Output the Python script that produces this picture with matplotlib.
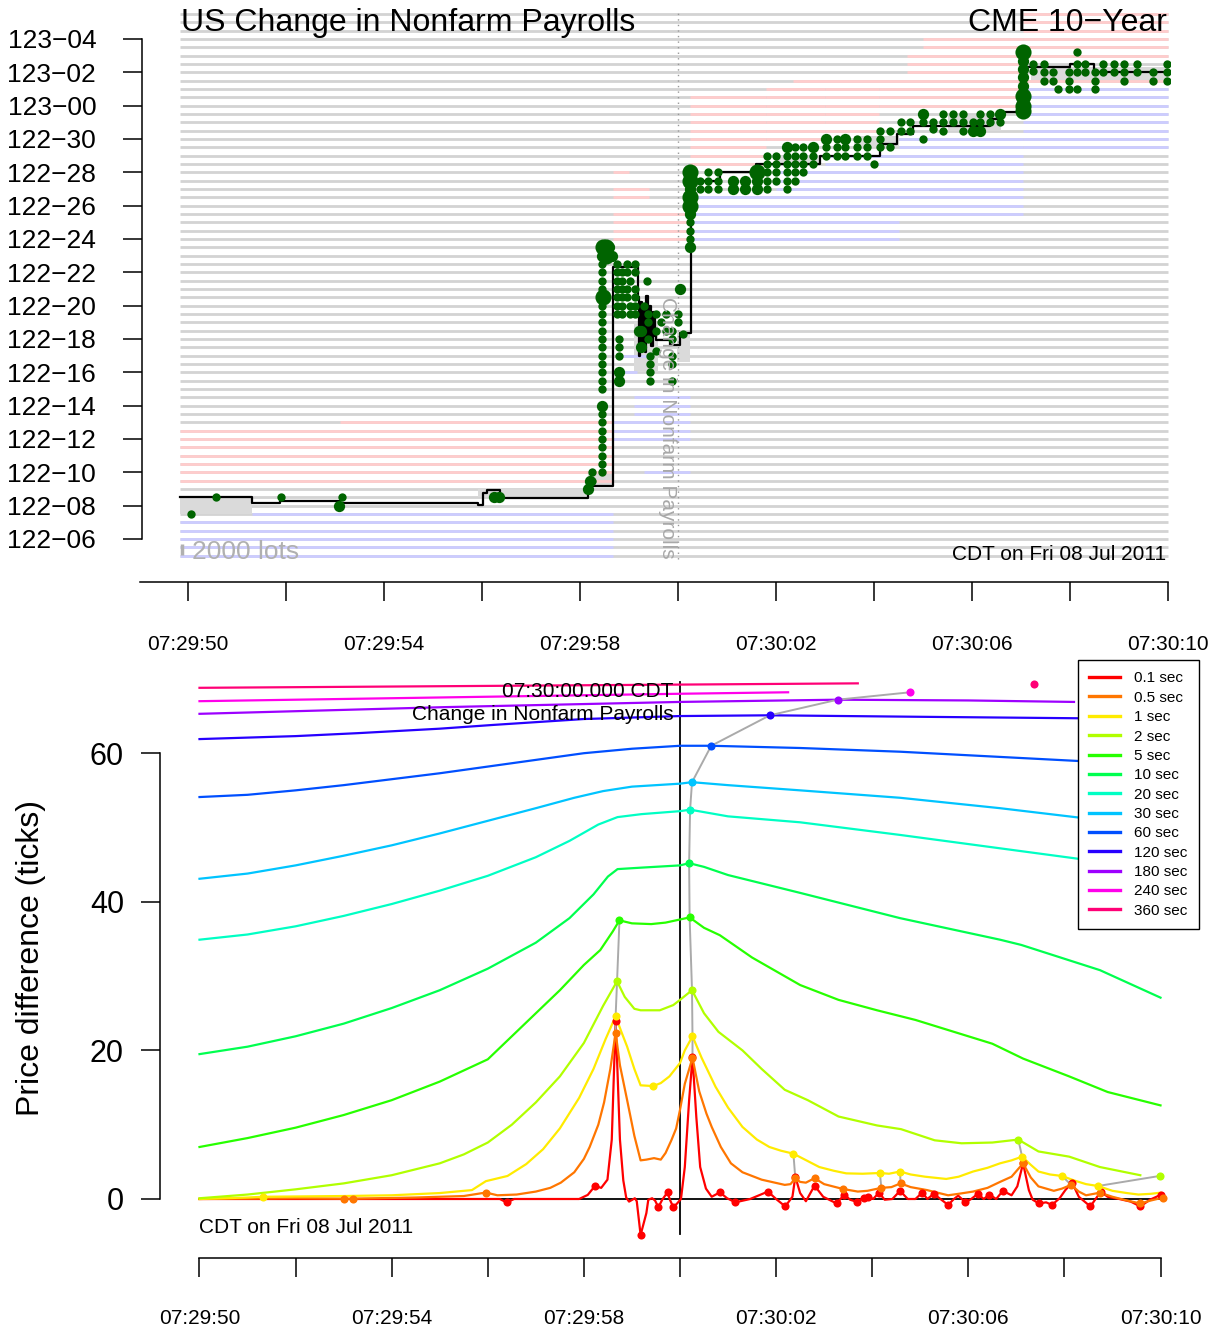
import numpy as np
import matplotlib
matplotlib.use("Agg")
import matplotlib.pyplot as plt
from matplotlib.lines import Line2D

plt.rcParams['font.family'] = ['Liberation Sans', 'DejaVu Sans']

# ---------------- TOP PANEL DATA (time in s from 07:30:00, price in 1/32 above 122-06) ----
price_t = [-10.16, -8.70, -8.12, -6.90, -4.08, -3.97, -3.90, -3.63, -1.83, -1.32, -0.82, -0.80,
           -0.77, -0.74, -0.71, -0.68, -0.65, -0.62, -0.59, -0.56, -0.52, -0.47, -0.44, -0.16,
           0.04, 0.265, 0.86, 1.60, 2.90, 4.12, 4.46, 4.80, 6.37, 6.57, 7.05, 8.00, 8.48, 10.0]
price_L = [2.5, 2.15, 2.25, 2.15, 2.05, 2.75, 2.95, 2.45, 3.2, 16.3, 14.5, 11.0,
           14.2, 11.5, 13.8, 11.2, 14.6, 12.0, 14.0, 11.6, 13.6, 12.2, 11.94, 11.64,
           12.34, 21.5, 22.0, 22.5, 23.0, 23.7, 24.3, 24.8, 25.2, 25.6, 28.3, 28.5, 28.0, 28.0]

# order book blocks: side, low level, high level, start, end
book_side = ['ask', 'ask', 'bid', 'bid',
             'ask', 'ask', 'ask',
             'bid', 'bid', 'bid', 'bid', 'bid',
             'ask', 'ask', 'ask', 'ask', 'ask', 'ask', 'ask', 'ask',
             'bid', 'bid', 'bid', 'bid', 'bid', 'bid']
book_lo = [3.5, 7.0, -1.0, 1.5,
           18.0, 20.5, 22.0,
           11.0, 10.0, 7.5, 6.0, 4.0,
           22.5, 24.0, 27.5, 24.5, 26.0, 28.0, 29.5, 29.0,
           19.5, 21.0, 22.5, 23.5, 18.0, 23.5]
book_hi = [6.5, 7.0, 1.0, 1.5,
           19.5, 21.0, 22.0,
           11.0, 10.0, 8.5, 7.0, 4.0,
           26.5, 27.0, 27.5, 27.0, 27.0, 29.0, 30.0, 31.5,
           20.5, 22.0, 23.0, 24.0, 19.0, 27.0]
book_t0 = [-10.16, -6.9, -10.16, -8.7,
           -1.32, -1.32, -1.32,
           -1.12, -1.32, -0.9, -1.32, -0.7,
           0.24, 1.8, 2.35, 3.0, 4.1, 4.67, 5.0, 7.05,
           0.24, 2.0, 3.0, 4.5, 0.24, 7.05]
book_t1 = [-1.32, -1.32, -1.32, -1.32,
           0.24, -0.6, -1.0,
           -0.64, -0.84, 0.24, 0.24, 0.24,
           1.8, 3.0, 10.0, 4.1, 7.05, 7.05, 7.05, 10.0,
           7.05, 7.05, 7.05, 7.05, 4.5, 10.0]

# spread (empty) regions
spread_lo = [1.5, 2.5, 3.2, 10.0, 10.6, 22.5, 23.5, 24.5, 27.4]
spread_hi = [2.5, 3.0, 4.0, 13.0, 12.5, 23.0, 24.2, 25.4, 28.3]
spread_t0 = [-10.16, -4.08, -1.83, -0.90, -0.02, 2.0, 3.6, 5.5, 7.2]
spread_t1 = [-8.70, -1.83, -1.32, -0.40, 0.24, 2.9, 4.5, 6.6, 10.0]

# trades: (time, [levels], size class)
trades = [
    (-9.93, [1.5], 1), (-9.43, [2.5], 1), (-8.11, [2.5], 1), (-6.91, [2.0], 2),
    (-6.85, [2.5], 1), (-3.75, [2.5], 2), (-3.65, [2.5], 2),
    (-1.84, [3.0], 2), (-1.80, [3.5], 2), (-1.76, [3.5, 4.0], 1),
    (-1.56, [4.0, 4.5, 5.0, 5.5, 6.0, 6.5, 7.0, 7.5, 9.0, 9.5, 10.0, 10.5, 11.0, 11.5,
             12.0, 12.5, 13.0, 13.5, 14.0, 15.0, 15.5, 16.0, 16.5], 1),
    (-1.56, [8.0, 17.0], 2), (-1.54, [14.5, 17.5], 3),
    (-1.47, [17.5, 17.0], 3), (-1.40, [17.5], 2), (-1.34, [17.0], 2),
    (-1.25, [16.5, 16.0, 15.5, 15.0, 14.5, 14.0, 13.5], 1),
    (-1.14, [16.0, 15.5, 15.0, 14.5, 14.0, 13.5], 1),
    (-1.05, [16.5, 16.0, 15.0, 14.5], 1),
    (-0.98, [15.5, 14.0, 13.5], 1),
    (-0.88, [16.5, 16.0, 15.0, 14.5, 14.0, 13.5], 1),
    (-1.20, [12.0, 11.5, 11.0], 1), (-1.20, [10.0, 9.5], 2),
    (-0.80, [12.5], 2), (-0.75, [12.5, 11.5], 2), (-0.70, [14.0], 1),
    (-0.64, [15.5], 1), (-0.62, [13.5, 13.0, 12.0], 1),
    (-0.58, [11.0, 10.5, 10.0, 9.5], 1), (-0.45, [13.5, 12.5, 11.3], 1),
    (-0.35, [13.0], 1), (-0.25, [13.5, 12.5], 1),
    (-0.12, [12.5, 12.0, 11.0, 10.5, 9.5], 1), (0.0, [13.5, 13.0], 1),
    (0.05, [15.0], 2), (0.10, [12.3], 1),
    (0.25, [17.5, 19.5, 21.0], 2), (0.25, [18.0, 18.5, 19.0], 1),
    (0.25, [20.0, 20.5, 21.5, 22.0], 3),
    (0.45, [21.5, 21.0], 1), (0.62, [22.0, 21.5, 21.0], 1), (0.82, [22.0, 21.5, 21.0], 1),
    (1.13, [21.5, 21.0], 2), (1.37, [21.5, 21.0], 2), (1.61, [22.0], 3), (1.61, [21.5, 21.0], 2),
    (1.81, [23.0, 22.5, 22.0, 21.5, 21.0], 1), (2.01, [23.0, 22.5, 22.0, 21.5], 1),
    (2.22, [23.5], 2), (2.22, [23.0, 22.5, 22.0, 21.5, 21.0], 1),
    (2.39, [23.5, 23.0, 22.5, 22.0, 21.5], 1), (2.56, [23.5, 23.0, 22.5, 22.0], 1),
    (2.76, [23.5], 2), (2.76, [23.0, 22.5], 1),
    (3.03, [24.0], 2), (3.03, [23.5, 23.0], 1), (3.24, [24.0, 23.5, 23.0], 1),
    (3.41, [24.0], 2), (3.41, [23.5, 23.0], 1), (3.65, [24.0, 23.5, 23.0], 1),
    (3.85, [24.0, 23.5, 23.0], 1), (3.99, [22.5], 1), (4.12, [24.5, 24.0, 23.5], 1),
    (4.33, [24.5, 23.5], 1), (4.56, [25.0, 24.5], 1), (4.73, [25.0, 24.5], 1),
    (5.01, [25.5], 2), (5.01, [25.0, 24.0], 1), (5.21, [25.0, 24.6], 1),
    (5.41, [25.5, 25.0, 24.5], 1), (5.62, [25.5, 25.0], 1), (5.82, [25.5, 25.0, 24.5], 1),
    (6.03, [25.0], 1), (6.03, [24.5], 2), (6.16, [25.5, 25.0], 1), (6.16, [24.5], 2),
    (6.37, [25.5, 25.0], 1), (6.57, [25.5], 2), (6.57, [25.0], 1),
    (7.05, [29.2, 26.6, 26.0, 25.7], 3), (7.05, [28.7, 28.2, 27.7, 27.2], 2),
    (7.25, [28.5, 28.1], 1), (7.46, [28.5, 28.0, 27.5], 1), (7.66, [28.0, 27.5], 1),
    (7.76, [27.0], 1), (7.97, [28.0, 27.5, 27.0], 1), (8.14, [29.2, 28.5, 28.0, 27.0], 1),
    (8.31, [28.5, 28.0], 1), (8.51, [28.0, 27.5, 27.0], 1), (8.68, [28.5, 28.0], 1),
    (8.90, [28.5, 28.0], 1), (9.10, [28.5, 28.0, 27.5], 1), (9.36, [28.5, 28.0], 1),
    (9.70, [28.0, 27.5], 1), (9.97, [28.5, 28.0, 27.5], 1),
]
trade_size = {1: 36, 2: 66, 3: 135}

# ---------------- BOTTOM PANEL DATA ----------------
horizons = ['0.1 sec', '0.5 sec', '1 sec', '2 sec', '5 sec', '10 sec', '20 sec',
            '30 sec', '60 sec', '120 sec', '180 sec', '240 sec', '360 sec']
colors = ['#FF0000', '#FF7600', '#FFEB00', '#B1FF00', '#27FF00', '#00FF4F', '#00FFC4',
          '#00C4FF', '#004FFF', '#2700FF', '#9D00FF', '#FF00EB', '#FF0076']

t_01 = [-10, -4.0, -3.75, -3.61, -3.45, -2.1, -1.92, -1.77, -1.64, -1.51, -1.42, -1.37, -1.34,
        -1.30, -1.25, -1.18, -1.12, -1.06, -0.94, -0.90, -0.82, -0.70, -0.66, -0.58, -0.52,
        -0.45, -0.37, -0.26, -0.21, -0.14, -0.06, 0.02, 0.10, 0.19, 0.26, 0.34, 0.42, 0.54,
        0.66, 0.83, 0.98, 1.15, 1.46, 1.83, 2.0, 2.19, 2.34, 2.40, 2.5, 2.62, 2.80, 2.98,
        3.26, 3.42, 3.54, 3.69, 3.82, 3.92, 4.02, 4.14, 4.26, 4.42, 4.58, 4.74, 4.9, 5.04,
        5.15, 5.28, 5.42, 5.58, 5.70, 5.79, 5.94, 6.06, 6.2, 6.32, 6.44, 6.58, 6.72, 6.9,
        7.02, 7.14, 7.26, 7.34, 7.47, 7.62, 7.74, 7.9, 8.02, 8.16, 8.3, 8.42, 8.54, 8.66,
        8.76, 8.9, 9.14, 9.38, 9.58, 9.78, 10.0]
v_01 = [0, 0, 0, -0.46, 0, 0, 0.55, 1.75, 1.5, 2.6, 8.0, 18.0, 23.9,
        17.0, 8.0, 2.5, 0.2, -0.35, 0.1, -0.3, -4.84, -1.9, -0.1, 0.1, -0.2,
        -1.1, -0.1, 0.9, -0.1, -1.1, -0.6, 0.0, 4.3, 13.3, 19.1, 11.0, 4.3, 1.4,
        0.3, 0.9, 0.1, -0.45, 0.0, 1.0, 0.0, -1.0, 0.3, 3.0, 0.8, -0.3, 1.8, 0.3,
        -0.6, 0.6, -0.1, -0.4, 0.2, 0.3, 0.0, 0.85, -0.1, 0.0, 1.1, 0.0, 0.0, 0.85,
        0.0, 0.7, 0.0, -0.8, 0.0, 0.45, -0.45, 0.0, 0.7, 0.0, 0.6, 0.0, 1.1, 0.5,
        1.7, 4.8, 1.2, -0.1, -0.6, -0.45, -0.8, 0.1, 1.2, 2.2, 0.3, -0.35, -1.0, 0.1,
        1.0, 0.3, 0.0, -0.35, -1.0, -0.1, 0.55]
t_05 = [-10, -8, -7.0, -6.8, -5.5, -4.5, -4.04, -3.8, -3.4, -3.0, -2.7, -2.48, -2.2, -2.0,
        -1.88, -1.7, -1.58, -1.45, -1.34, -1.25, -1.1, -0.95, -0.82, -0.7, -0.54, -0.4,
        -0.3, -0.18, -0.08, 0.0, 0.1, 0.26, 0.4, 0.55, 0.66, 0.85, 1.06, 1.3, 1.7, 2.18,
        2.3, 2.4, 2.5, 2.62, 2.8, 3.0, 3.39, 3.7, 3.9, 4.19, 4.4, 4.59, 4.8, 5.14, 5.58,
        5.8, 6.1, 6.4, 6.66, 6.9, 7.14, 7.3, 7.46, 7.78, 7.95, 8.14, 8.3, 8.45, 8.74, 9.0,
        9.3, 9.58, 9.8, 10.06]
v_05 = [0, 0.1, 0.05, 0.05, 0.2, 0.4, 0.87, 0.5, 0.6, 1.0, 1.5, 2.2, 3.6, 5.4,
        7.0, 10.0, 13.0, 17.5, 22.4, 18.0, 13.3, 8.5, 5.2, 5.3, 5.5, 5.3,
        6.2, 7.9, 9.5, 12.0, 15.5, 19.0, 14.5, 11.5, 9.7, 7.0, 4.8, 3.6, 2.6, 1.9,
        2.0, 2.8, 2.3, 2.2, 2.8, 2.0, 1.35, 1.0, 1.1, 1.5, 1.6, 2.1, 1.6, 1.2, 0.5,
        0.7, 1.0, 1.5, 2.3, 3.0, 4.8, 2.9, 1.7, 1.1, 1.4, 1.9, 1.0, 0.5, 0.85, 0.3,
        -0.2, -0.6, -0.2, 0.2]
t_1 = [-10, -9, -8.68, -7.0, -6.0, -5.0, -4.33, -4.04, -3.59, -3.2, -2.85, -2.5, -2.1, -1.8,
       -1.55, -1.34, -1.22, -1.1, -0.95, -0.82, -0.56, -0.4, -0.22, 0.0, 0.1, 0.26, 0.45,
       0.74, 1.0, 1.3, 1.6, 1.86, 2.1, 2.36, 2.6, 2.9, 3.2, 3.46, 3.8, 4.16, 4.35, 4.58,
       4.8, 5.1, 5.54, 5.8, 6.1, 6.4, 6.66, 6.9, 7.12, 7.3, 7.46, 7.7, 7.95, 8.2, 8.45,
       8.7, 9.0, 9.3, 9.54, 9.8, 10.0]
v_1 = [0, 0.2, 0.3, 0.4, 0.5, 0.8, 1.2, 2.4, 3.1, 4.7, 6.7, 9.5, 13.6, 17.5,
       21.5, 24.6, 22.5, 20.5, 17.5, 15.3, 15.2, 15.6, 16.5, 18.3, 20.0, 21.9, 19.0,
       15.1, 12.3, 9.7, 8.0, 7.0, 6.5, 6.1, 5.3, 4.3, 3.8, 3.45, 3.4, 3.5, 3.4, 3.7,
       3.3, 3.0, 2.7, 3.0, 3.7, 4.2, 4.8, 5.2, 5.7, 4.6, 3.7, 3.3, 3.1, 2.5, 2.0,
       1.75, 1.1, 0.8, 0.6, 0.7, 0.85]
t_2 = [-10, -9, -8, -7, -6, -5, -4.5, -4.0, -3.5, -3.0, -2.5, -2.0, -1.6, -1.31, -1.15,
       -0.95, -0.82, -0.42, -0.14, 0.0, 0.25, 0.5, 0.8, 1.3, 1.7, 2.18, 2.66, 3.3, 4.1,
       4.6, 5.3, 5.86, 6.5, 7.04, 7.46, 8.1, 8.74, 9.58]
v_2 = [0.1, 0.6, 1.3, 2.1, 3.2, 4.8, 6.0, 7.6, 10.0, 13.0, 16.5, 21.0, 26.0, 29.3, 27.2,
       25.6, 25.4, 25.4, 26.1, 26.8, 28.1, 25.0, 22.5, 20.0, 17.5, 14.7, 13.3, 11.1, 9.9,
       9.4, 7.9, 7.5, 7.6, 8.0, 6.4, 5.7, 4.3, 3.2]
t_5 = [-10, -9, -8, -7, -6, -5, -4, -3, -2.5, -2.0, -1.66, -1.4, -1.26, -1.0, -0.6,
       -0.3, 0.2, 0.5, 0.83, 1.5, 2.5, 3.3, 4.1, 4.9, 5.7, 6.5, 7.14, 8.1, 8.9, 10.0]
v_5 = [7.0, 8.2, 9.6, 11.3, 13.3, 15.8, 18.8, 25.0, 28.1, 31.5, 33.5, 36.0, 37.5, 37.1, 37.0,
       37.2, 37.9, 36.5, 35.5, 32.5, 28.8, 26.8, 25.4, 24.1, 22.5, 20.9, 18.9, 16.5, 14.4, 12.6]
t_10 = [-10, -9, -8, -7, -6, -5, -4, -3, -2.3, -1.8, -1.5, -1.3, -0.8, 0.0, 0.19, 0.5,
        1.0, 2.5, 4.58, 6.66, 7.1, 8.74, 10.0]
v_10 = [19.5, 20.5, 21.9, 23.6, 25.7, 28.1, 31.0, 34.5, 37.8, 41.0, 43.4, 44.4, 44.6, 44.9,
        45.2, 44.7, 43.6, 41.2, 37.8, 34.9, 34.2, 30.8, 27.1]
t_20 = [-10, -9, -8, -7, -6, -5, -4, -3, -2.3, -1.7, -1.3, -0.8, 0.0, 0.21, 1.0, 2.5,
        4.58, 6.66, 8.74, 10]
v_20 = [34.9, 35.6, 36.7, 38.1, 39.7, 41.5, 43.5, 46.0, 48.2, 50.4, 51.4, 51.8, 52.2, 52.4,
        51.5, 50.7, 49.0, 47.2, 45.4, 44.0]
t_30 = [-10, -9, -8, -7, -6, -5, -4, -3, -2.2, -1.6, -1.0, 0.0, 0.25, 1.0, 2.5, 4.58,
        6.66, 8.74, 10]
v_30 = [43.1, 43.8, 44.9, 46.2, 47.6, 49.2, 50.9, 52.6, 54.0, 54.9, 55.5, 55.9, 56.1, 55.7,
        55.0, 54.0, 52.6, 51.0, 50.2]
t_60 = [-10, -9, -8, -7, -6, -5, -4, -3, -2, -1, 0.0, 0.65, 2.5, 4.58, 6.66, 8.74, 10]
v_60 = [54.1, 54.4, 55.0, 55.7, 56.5, 57.3, 58.2, 59.1, 60.0, 60.6, 61.0, 61.0, 60.7, 60.2,
        59.5, 58.8, 58.3]
t_120 = [-10, -8, -6.7, -5, -3.9, -2.0, 0.0, 1.87, 5.0, 10.0]
v_120 = [61.9, 62.3, 62.7, 63.3, 63.8, 64.6, 65.0, 65.1, 64.9, 64.6]
t_180 = [-10, -4.9, 0.0, 3.28, 6.0, 8.2]
v_180 = [65.3, 66.2, 66.9, 67.2, 67.1, 66.9]
t_240 = [-10, -4.0, 0.0, 2.25]
v_240 = [67.0, 67.6, 68.0, 68.2]
t_360 = [-10, -3.0, 3.7]
v_360 = [68.8, 69.1, 69.4]
curve_t = [t_01, t_05, t_1, t_2, t_5, t_10, t_20, t_30, t_60, t_120, t_180, t_240, t_360]
curve_v = [v_01, v_05, v_1, v_2, v_5, v_10, v_20, v_30, v_60, v_120, v_180, v_240, v_360]

# marked extreme points per horizon
dot_t = [
    [-3.61, -1.77, -1.34, -0.82, -0.45, -0.26, -0.14, 0.26, 0.83, 1.15, 1.83, 2.19, 2.40, 2.80,
     3.26, 3.42, 3.69, 3.82, 3.92, 4.14, 4.58, 5.04, 5.28, 5.58, 5.94, 6.2, 6.44, 6.72, 7.14,
     7.47, 7.74, 8.16, 8.54, 8.76, 9.58, 10.0],
    [-7.0, -6.8, -4.04, -1.34, 0.26, 2.4, 2.8, 3.39, 4.19, 4.59, 7.14, 8.14, 8.74, 9.58, 10.06],
    [-8.68, -1.34, -0.56, 0.26, 2.36, 4.16, 4.58, 7.12, 7.95, 8.7],
    [-1.31, 0.25, 7.04, 9.98],
    [-1.26, 0.2], [0.19], [0.21], [0.25], [0.65], [1.87], [3.28], [4.79], [7.37]]
dot_v = [
    [-0.46, 1.75, 23.9, -4.84, -1.1, 0.9, -1.1, 19.1, 0.9, -0.45, 1.0, -1.0, 3.0, 1.8,
     -0.6, 0.6, -0.4, 0.2, 0.3, 0.85, 1.1, 0.85, 0.7, -0.8, -0.45, 0.7, 0.6, 1.1, 4.8,
     -0.6, -0.8, 2.2, -1.0, 1.0, -1.0, 0.55],
    [0.05, 0.05, 0.87, 22.4, 19.0, 2.8, 2.8, 1.35, 1.5, 2.1, 4.8, 1.9, 0.85, -0.6, 0.2],
    [0.3, 24.6, 15.2, 21.9, 6.1, 3.5, 3.7, 5.7, 3.1, 1.75],
    [29.3, 28.1, 8.0, 3.1],
    [37.5, 37.9], [45.2], [52.4], [56.1], [61.0], [65.1], [67.2], [68.2], [69.3]]

# gray links between the marked points of successive horizons
chains_t = [[-1.34, -1.34, -1.31, -1.26],
            [0.26, 0.26, 0.25, 0.2, 0.19, 0.21, 0.25, 0.65, 1.87, 3.28, 4.79],
            [2.4, 2.36], [4.19, 4.16], [4.59, 4.58], [7.14, 7.12, 7.04],
            [8.16, 8.14, 7.95], [8.7, 9.98]]
chains_v = [[22.4, 24.6, 29.3, 37.5],
            [19.0, 21.9, 28.1, 37.9, 45.2, 52.4, 56.1, 61.0, 65.1, 67.2, 68.2],
            [2.8, 6.1], [1.5, 3.5], [2.1, 3.7], [4.8, 5.7, 8.0],
            [2.2, 1.9, 3.1], [1.75, 3.1]]

time_ticks = [-10, -8, -6, -4, -2, 0, 2, 4, 6, 8, 10]
time_labels = ['07:29:50', '', '07:29:54', '', '07:29:58', '', '07:30:02', '', '07:30:06', '', '07:30:10']
level_ticks = list(range(0, 31, 2))

# ---------------- FIGURE ----------------
W, H = 1218, 1332
fig = plt.figure(figsize=(W / 100, H / 100), dpi=100)


def px_axes(l, t, r, b):
    return fig.add_axes([l / W, 1 - b / H, (r - l) / W, (b - t) / H])


def ftext(x, y, s, **kw):
    fig.text(x / W, 1 - y / H, s, **kw)


def level_label(L):
    total = 122 * 32 + 6 + L
    return f"{total // 32}\u2212{total % 32:02d}"


# ---------- top panel ----------
ax = px_axes(142, 8, 1170, 582)
ax.set_xlim((142 - 678) / 49, (1170 - 678) / 49)
ax.set_ylim((539 - 582) / 16.667, (539 - 8) / 16.667)

levels = np.arange(-1.0, 31.51, 0.5)
ax.hlines(levels, -10.16, 10.0, color='#d3d3d3', lw=2.0, zorder=1)

for lo, hi, t0, t1 in zip(spread_lo, spread_hi, spread_t0, spread_t1):
    ax.fill_between([t0, t1], [lo, lo], [hi, hi], color='#dadada', lw=0, zorder=1.5)

for side, lo, hi, t0, t1 in zip(book_side, book_lo, book_hi, book_t0, book_t1):
    col = '#ffcccc' if side == 'ask' else '#ccccff'
    lv = np.arange(lo, hi + 0.01, 0.5)
    ax.hlines(lv, t0, t1, color=col, lw=2.0, zorder=2)

ax.axvline(0, ymin=0.04, ymax=0.995, color='#999999', lw=1.0, ls=(0, (1, 3)), zorder=2.5)
ax.step(price_t, price_L, where='post', color='black', lw=1.6, zorder=3)

for t, lv, sz in trades:
    ax.scatter([t] * len(lv), lv, s=trade_size[sz], color='#006400', lw=0, zorder=4)

ax.text(-0.21, 6.7, 'Change in Nonfarm Payrolls', rotation=-90, color='#a8a8a8',
        fontsize=15, ha='center', va='center', zorder=5)

for s in ['top', 'right']:
    ax.spines[s].set_visible(False)
ax.spines['left'].set_bounds(0, 30)
ax.spines['bottom'].set_bounds((140 - 678) / 49, 10)
for s in ['left', 'bottom']:
    ax.spines[s].set_linewidth(1.1)
ax.set_yticks(level_ticks)
ax.set_yticklabels([level_label(L) for L in level_ticks])
ax.set_xticks(time_ticks)
ax.set_xticklabels(time_labels)
ax.tick_params(axis='y', length=14, width=1.1, labelsize=19, pad=19)
ax.tick_params(axis='x', length=14, width=1.1, labelsize=15, pad=24)

ftext(181, 23, 'US Change in Nonfarm Payrolls', fontsize=23, ha='left', va='center')
ftext(1167, 23, 'CME 10\u2212Year', fontsize=23, ha='right', va='center')
ftext(192, 552, '2000 lots', fontsize=19, color='#b0b0b0', ha='left', va='center')
ftext(1166, 554, 'CDT on Fri 08 Jul 2011', fontsize=15, ha='right', va='center')
ax.plot([-10.13, -10.13], [-0.3, -0.95], color='#b0b0b0', lw=2.5, solid_capstyle='butt')

# ---------- bottom panel ----------
bx = px_axes(160, 670, 1200, 1258)
bx.set_xlim((160 - 680) / 48.05, (1200 - 680) / 48.05)
bx.set_ylim((1199 - 1258) / 7.43, (1199 - 670) / 7.43)

bx.plot([-10, 10], [0, 0], color='black', lw=1.3, zorder=1)
bx.plot([0, 0], [-4.7, 69.6], color='black', lw=1.3, zorder=1)

for tt, vv, c in zip(curve_t, curve_v, colors):
    bx.plot(tt, vv, color=c, lw=1.6, zorder=2, solid_joinstyle='round')
for tt, vv in zip(chains_t, chains_v):
    bx.plot(tt, vv, color='#aaaaaa', lw=1.4, zorder=3)
for tt, vv, c in zip(dot_t, dot_v, colors):
    bx.scatter(tt, vv, s=34, color=c, lw=0, zorder=4)

bx.text(-0.14, 68.3, '07:30:00.000 CDT', fontsize=15, ha='right', va='center', zorder=5)
bx.text(-0.14, 65.2, 'Change in Nonfarm Payrolls', fontsize=15, ha='right', va='center', zorder=5)
bx.text(-10, -3.9, 'CDT on Fri 08 Jul 2011', fontsize=15, ha='left', va='center')

for s in ['top', 'right']:
    bx.spines[s].set_visible(False)
bx.spines['left'].set_bounds(0, 60)
bx.spines['bottom'].set_bounds(-10, 10)
for s in ['left', 'bottom']:
    bx.spines[s].set_linewidth(1.1)
bx.set_yticks([0, 20, 40, 60])
bx.set_xticks(time_ticks)
bx.set_xticklabels(time_labels)
bx.tick_params(axis='y', length=14, width=1.1, labelsize=22, pad=12)
bx.tick_params(axis='x', length=14, width=1.1, labelsize=15, pad=23)
bx.set_ylabel('Price difference (ticks)', fontsize=23)
bx.yaxis.set_label_coords((46 - 160) / 1040, (1258 - 958) / 588)

handles = [Line2D([0], [0], color=c, lw=2.4) for c in colors]
leg = fig.legend(handles, horizons, loc='upper left',
                 bbox_to_anchor=(1078 / W, 1 - 660 / H), fontsize=11,
                 frameon=True, fancybox=False, edgecolor='black', framealpha=1,
                 borderpad=0.75, handlelength=2.0, handletextpad=0.9,
                 labelspacing=0.35, borderaxespad=0)
leg.get_frame().set_linewidth(1.0)

fig.savefig('out.png', dpi=100)
